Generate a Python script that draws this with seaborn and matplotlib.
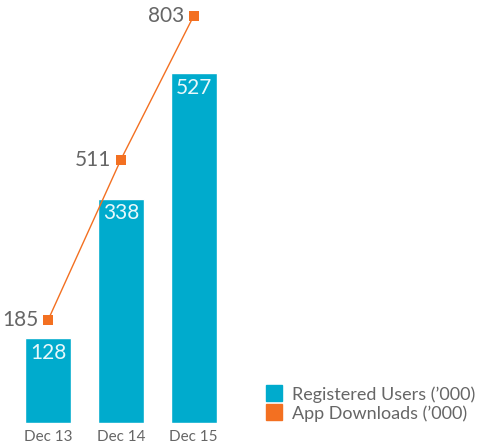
import numpy as np
import matplotlib.pyplot as plt
import seaborn as sns
from matplotlib.lines import Line2D

periods = ["Dec 13", "Dec 14", "Dec 15"]
users = [128, 338, 527]
downloads = [185, 511, 803]

blue = "#00abcd"
orange = "#f37021"
grey = "#666666"

sns.set_style("white")
plt.rcParams["font.family"] = ["Lato", "DejaVu Sans"]

fig = plt.figure(figsize=(4.8, 4.47), dpi=100)
ax = fig.add_axes([0, 24 / 447, 1, 423 / 447])

sns.barplot(x=periods, y=users, color=blue, width=0.63, saturation=1, ax=ax)
ax.set_xlim(-0.66, 5.93)
ax.set_ylim(0, 637)
for i, v in enumerate(users):
    ax.text(i, v - 7, str(v), ha="center", va="top", color="#e8f8fb",
            fontsize=15)

ax2 = ax.twinx()
pos = np.arange(len(periods))
sns.lineplot(x=pos, y=downloads, color=orange, linewidth=1, ax=ax2)
ax2.scatter(pos, downloads, marker="s", s=50, color=orange, zorder=3, linewidths=0)
ax2.set_ylim(-24, 835)
for i, v in enumerate(downloads):
    ax2.text(i - 0.13, v, str(v), ha="right", va="center", color=grey,
             fontsize=15)

for a in (ax, ax2):
    a.set_yticks([])
    a.set_ylabel("")
    for s in a.spines.values():
        s.set_visible(False)
ax.tick_params(axis="x", length=0, pad=5, labelsize=11, labelcolor=grey)

handles = [
    Line2D([], [], marker="s", linestyle="", markersize=11, color=blue),
    Line2D([], [], marker="s", linestyle="", markersize=11, color=orange),
]
fig.legend(handles, ["Registered Users (\u2019000)", "App Downloads (\u2019000)"],
           loc="lower left", bbox_to_anchor=(256 / 480, 18 / 447), frameon=False,
           fontsize=13, labelcolor=grey, handletextpad=0.4, labelspacing=0.15,
           handlelength=1.2, borderaxespad=0)

fig.savefig("out.png", dpi=100)
